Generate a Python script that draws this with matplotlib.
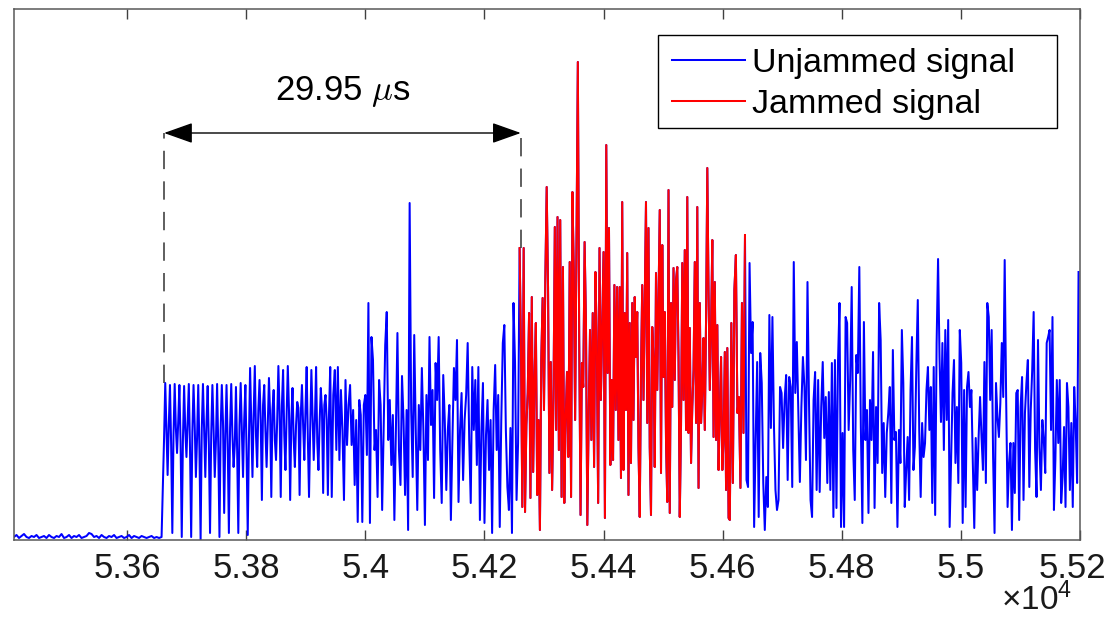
import numpy as np
import matplotlib.pyplot as plt
from matplotlib.patches import Rectangle
from matplotlib.transforms import ScaledTranslation

plt.rcParams['font.family'] = ['Liberation Sans', 'DejaVu Sans']
plt.rcParams['mathtext.fontset'] = 'custom'
plt.rcParams['mathtext.rm'] = 'Liberation Sans'
plt.rcParams['mathtext.it'] = 'Liberation Sans:italic'

# sample index where each traced piece starts (last entry = end of record)
seg_start = [53410, 53662, 53941, 54259, 54425, 54612, 54640, 54896, 55200]

# amplitude (arbitrary units), piece by piece
noise_floor = [0.03, 0.05, 0.02, 0.04, 0.06, 0.03, 0.02, 0.04, 0.03, 0.05, 0.02, 0.03, 0.04, 0.02, 0.05,
               0.03, 0.02, 0.04, 0.03, 0.06, 0.02, 0.03, 0.05, 0.02, 0.04, 0.03, 0.05, 0.02, 0.03, 0.04,
               0.07, 0.06, 0.03, 0.04, 0.02, 0.05, 0.03, 0.02, 0.04, 0.03, 0.05, 0.02, 0.03, 0.04, 0.02,
               0.03, 0.05, 0.02, 0.04, 0.03, 0.02, 0.04, 0.03, 0.02, 0.03, 0.04, 0.02, 0.03, 0.02, 0.03]
burst_head = [1.02,
              1.57, 1.10, 0.65, 1.15, 1.55, 0.95, 0.07, 1.05, 1.56, 1.12, 0.87, 1.18,
              1.55, 0.98, 0.03, 1.00, 1.54, 1.10, 0.83, 1.20, 1.56, 0.92, 0.03, 1.08,
              1.55, 1.15, 0.63, 1.02, 1.55, 0.90, 0.00, 1.12, 1.56, 1.08, 0.63, 1.18,
              1.54, 0.95, 0.07, 1.05, 1.55, 1.12, 0.63, 0.98, 1.56, 0.92, 0.03, 1.10,
              1.55, 1.18, 0.27, 1.05, 1.55, 0.96, 0.07, 1.12, 1.56, 1.05, 0.73, 0.95,
              1.53, 0.90, 0.07, 1.15, 1.57, 1.10, 0.63, 1.20, 1.55, 0.88, 0.05, 1.00,
              1.72, 1.15, 0.63, 1.25, 1.74, 1.05, 0.73, 1.30, 1.60, 1.20, 0.40, 1.35,
              1.55, 1.10, 0.73, 1.15, 1.62, 1.25, 0.43, 1.30, 1.50, 1.00, 0.80, 1.20,
              1.74, 1.28, 0.43, 1.35, 1.70, 1.05, 0.70, 1.25, 1.74, 1.30, 0.40, 1.20,
              1.52, 1.00, 0.73, 1.15, 1.38, 1.32, 0.45, 1.25, 1.55, 1.15, 0.80, 1.30,
              1.73, 1.02, 0.43, 1.10, 1.70, 1.25, 0.80, 1.20, 1.73, 0.98, 0.70, 1.18,
              1.52, 1.30, 0.47, 1.35, 1.45, 1.20, 0.45, 1.28]
burst_mid = [1.73, 0.43, 1.45, 1.70, 0.90, 1.73, 0.80, 1.50, 1.10, 0.40, 1.60, 0.95, 1.35, 1.55, 0.95,
             1.30, 0.55, 1.20, 0.18, 1.40, 1.25, 0.18, 1.35, 1.45, 0.85, 2.37, 0.17, 2.03, 1.80, 0.90,
             1.10, 0.43, 1.60, 1.35, 0.30, 1.10, 1.95, 2.28, 1.00, 1.40, 0.75, 1.25, 0.20, 1.10, 2.07,
             0.90, 0.55, 1.64, 1.20, 0.45, 1.30, 0.10, 3.37, 1.30, 0.63, 2.05, 1.10, 0.30, 1.35, 0.90,
             1.72, 1.10, 0.15, 1.45, 0.80, 2.03, 1.15, 1.50, 0.42, 1.77, 1.40, 2.03, 0.90, 0.37, 1.65,
             1.20, 0.50, 1.10, 1.35, 0.20, 1.00, 1.72, 1.40, 2.00, 0.38, 1.10, 1.47, 0.60, 1.20, 1.45,
             1.97, 1.00, 0.37, 1.73, 1.10, 1.60, 0.75, 1.73, 0.20, 1.10, 1.57, 0.17, 1.05, 1.40, 0.70,
             1.20, 0.07, 1.30, 1.75, 0.90, 1.45, 0.13, 1.20, 1.97, 2.15, 1.10, 0.53, 0.30, 1.12, 0.07,
             2.37, 1.78, 0.40, 0.97]
jam_a = [2.92, 1.93, 0.33, 2.92, 0.28, 1.15, 1.47, 2.27, 0.42, 2.43, 0.68, 1.63, 2.17, 0.45, 1.20,
         0.10, 1.80, 2.42, 1.30, 2.62, 3.53, 2.52, 0.67, 1.78, 0.50, 1.40, 3.13, 1.10, 3.23, 0.90,
         3.20, 0.43, 2.73, 0.37, 1.20, 1.68, 0.83, 2.78, 0.43, 3.48, 2.70, 1.20, 3.03, 4.78, 2.03,
         0.25, 1.77, 1.53, 2.98, 2.17, 0.15, 1.23, 2.10, 1.00, 2.27, 0.73, 2.68, 1.98, 0.37, 2.92,
         1.40, 2.13, 2.88, 0.22, 3.95, 1.67, 3.12, 0.75, 1.60, 0.80, 2.55, 1.30, 2.53]
jam_b = [1.00, 2.53, 0.62, 3.38, 0.70, 2.27, 1.30, 2.87, 0.45, 2.17, 0.77, 2.37, 1.20, 2.43, 1.83,
         2.28, 0.93, 0.23, 1.67, 2.55, 1.40, 2.43, 3.38, 1.17, 3.12, 0.93, 0.25, 2.13, 1.80, 0.73,
         2.67, 1.50, 2.37, 3.30, 0.67, 2.95, 1.63, 2.28, 1.00, 0.38, 3.50, 0.27, 2.37, 1.33, 2.72,
         1.60, 2.60, 2.73, 1.83, 0.23, 1.15, 2.77, 1.40, 2.90, 1.10, 3.43, 1.07, 2.12, 0.77, 1.33,
         1.70, 2.78, 1.17, 3.33, 0.52, 2.37, 1.17, 1.50, 2.02, 1.10, 2.20, 3.72, 2.48, 1.50, 2.10,
         3.00, 1.03, 2.58, 1.00, 2.15, 0.70, 1.30, 1.83, 0.70, 1.00, 1.88, 0.50, 1.92, 0.22]
jam_c = [0.20, 2.17, 0.57, 2.50, 2.85, 1.27, 1.43, 0.52, 2.37, 1.07, 3.05]
tail_a = [0.60, 0.53, 2.77, 1.87, 2.18, 0.13, 1.00, 1.78, 0.23, 1.87, 1.57, 0.57, 0.10, 0.63, 0.33,
          2.25, 1.12, 2.23, 1.15, 0.50, 0.30, 0.40, 1.53, 1.47, 0.92, 1.40, 1.65, 0.60, 1.63, 1.53,
          0.53, 2.78, 1.47, 1.98, 1.27, 0.58, 1.33, 1.83, 1.53, 0.80, 2.58, 1.37, 0.40, 0.23, 1.40,
          1.68, 0.50, 1.60, 0.48, 1.33, 1.78, 1.02, 1.43, 0.57, 1.48, 0.50, 1.77, 0.23, 1.80, 0.32,
          1.77, 2.37, 0.13, 1.07, 0.13, 2.23, 2.17, 1.10, 1.60, 2.53, 0.90, 0.40, 1.85, 1.67, 2.73,
          1.13, 0.17, 2.18, 1.00, 1.30, 0.27, 1.40, 1.00, 1.88, 0.32, 1.33, 0.77, 2.37, 2.00, 0.67,
          1.17, 0.43, 1.07, 1.27, 1.53, 0.37, 1.90, 1.00, 1.08, 0.13]
tail_b = [1.10, 0.77, 2.10, 1.57, 0.33, 0.70, 1.03, 0.40, 1.50, 2.03, 0.70, 0.93, 1.75, 2.40, 1.10,
          0.43, 1.17, 0.83, 0.97, 1.50, 1.73, 1.10, 1.53, 0.37, 1.73, 0.25, 1.97, 2.81, 1.83, 1.18,
          1.97, 0.90, 2.10, 1.20, 2.20, 0.13, 0.80, 1.47, 1.80, 0.77, 1.33, 0.57, 2.10, 1.77, 0.17,
          1.50, 0.33, 1.53, 1.68, 1.33, 1.50, 0.77, 0.12, 1.02, 0.50, 1.03, 1.43, 1.03, 0.70, 1.78,
          0.57, 2.37, 2.23, 1.40, 2.10, 0.83, 0.07, 1.57, 1.23, 1.03, 1.37, 1.97, 1.43, 2.80, 1.43,
          0.33, 0.77, 0.97, 0.10, 0.97, 0.47, 1.47, 1.50, 0.20, 1.33, 1.63, 0.40, 1.27, 1.57, 1.80,
          0.53, 1.30, 1.70, 2.28, 0.90, 0.43, 2.00, 0.93, 0.50, 1.20, 1.00, 0.67, 1.97, 2.03, 2.10,
          1.10, 2.23, 0.30, 0.80, 1.60, 0.97, 1.60, 0.37, 0.63, 1.13, 0.33, 1.57, 1.33, 0.50, 1.17,
          0.33, 1.53, 1.17, 0.57, 2.68]

pieces = [noise_floor, burst_head, burst_mid, jam_a, jam_b, jam_c, tail_a, tail_b]
jam_pieces = [3, 4, 5]

tick_pos = [53600, 53800, 54000, 54200, 54400, 54600, 54800, 55000, 55200]
tick_labels = ['5.36', '5.38', '5.4', '5.42', '5.44', '5.46', '5.48', '5.5', '5.52']

# delay marker: start of burst, start of jamming
t_burst, t_jam = 53662, 54261
y_burst, y_jam = 1.57, 2.92
y_arrow, y_label = 4.07, 4.48

t_all, a_all, t_red, a_red = [], [], [], []
for k, vals in enumerate(pieces):
    tt = np.linspace(seg_start[k], seg_start[k + 1], len(vals), endpoint=False)
    t_all.append(tt)
    a_all.append(vals)
    if k in jam_pieces:
        t_red.append(tt)
        a_red.append(vals)
t_all = np.concatenate(t_all)
a_all = np.concatenate(a_all)
t_red = np.concatenate(t_red)
a_red = np.concatenate(a_red)

fig = plt.figure(figsize=(11.08, 6.23), dpi=100)
ax = fig.add_axes([14 / 1108, 83 / 623, 1066 / 1108, 531 / 623])

ax.plot(t_all, a_all, color='#0000ff', lw=1.45, label='Unjammed signal')
ax.plot(t_red, a_red, color='#ff0000', lw=1.45, label='Jammed signal')

ax.plot([t_burst, t_burst], [y_burst, y_arrow], color='0.2', lw=1.1, dashes=(12, 8))
ax.plot([t_jam, t_jam], [y_jam, y_arrow], color='0.2', lw=1.1, dashes=(12, 8))
ax.annotate('', xy=(t_burst, y_arrow), xytext=(t_jam, y_arrow),
            arrowprops=dict(arrowstyle='<|-|>,head_length=0.9,head_width=0.32',
                            color='black', lw=1.0, mutation_scale=20,
                            shrinkA=0, shrinkB=0))
ax.text((t_burst + t_jam) / 2, y_label, r'29.95 $\mu$s', ha='center', va='center',
        fontsize=25, math_fontfamily='cm')

ax.set_xlim(53410, 55200)
ax.set_ylim(0, 5.31)
ax.set_xticks(tick_pos)
ax.set_xticklabels(tick_labels)
ax.set_yticks([])
ax.tick_params(axis='x', direction='in', length=7, width=1.0, top=True,
               labelsize=25, pad=9, color='0.25', labelcolor='#1a1a1a')
# last label sits a little left of its tick, as in the source
last = ax.get_xticklabels()[-1]
last.set_transform(last.get_transform() + ScaledTranslation(-8 / 100, 0, fig.dpi_scale_trans))
for sp in ax.spines.values():
    sp.set_color('0.35')
    sp.set_linewidth(1.1)

# legend box drawn by hand (MATLAB style, wide right margin)
ax.add_patch(Rectangle((0.604, 0.776), 0.374, 0.175, transform=ax.transAxes,
                       facecolor='white', edgecolor='black', lw=1.0, zorder=5))
leg = ax.legend(loc='upper left', bbox_to_anchor=(0.617, 0.927), borderaxespad=0,
                borderpad=0, fontsize=24.5, handlelength=2.15, handletextpad=0.2,
                labelspacing=0.3, frameon=False)
leg.set_zorder(6)

fig.text(1072 / 1108, 6 / 623, r'$\times10^{4}$', ha='right', va='bottom',
         fontsize=24, color='#1a1a1a')

fig.savefig('out.png', dpi=100)
